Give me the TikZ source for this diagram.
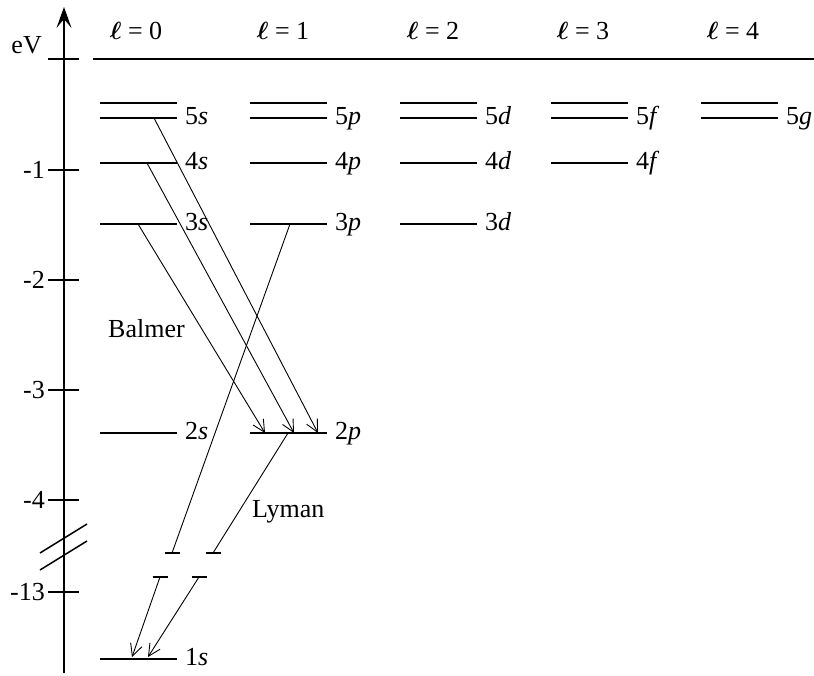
\documentclass[tikz,border=0pt]{standalone}
\usepackage{amsmath}
\usepackage{fontspec}
\setmainfont{Liberation Serif}
\usetikzlibrary{arrows.meta}
\tikzset{
  level/.style={line width=1.8pt},
  trans/.style={line width=0.9pt},
  transarrow/.style={trans,-{Straight Barb[length=12pt,width=12pt,line width=0.9pt]}},
  tickmark/.style={line width=1.5pt},
  lbl/.style={anchor=base west,inner sep=0pt},
  txt/.style={inner sep=0pt},
}
\newcommand{\ellbold}{$\boldsymbol{\ell}$}
\begin{document}
\begin{tikzpicture}[x=1pt,y=-1pt,font=\fontsize{26}{30}\selectfont]
\useasboundingbox (0,0) rectangle (814,675);
% axis
\coordinate (axbot) at (64,673);
\coordinate (axtop) at (64,7);
\draw[line width=1.5pt,-{Stealth[length=21pt,width=15pt,inset=9pt]}] (axbot) -- (axtop);
\node[txt,anchor=base east] (ev) at (42,53) {eV};
% ticks
\foreach \yy/\lab in {170/-1,280/-2,390/-3,500/-4,592/-13}{
  \draw[tickmark] (48,\yy) -- (79,\yy);
  \node[txt,anchor=base east] (t\lab) at (45,\yy+8) {\lab};
}
\draw[tickmark] (48,59) -- (79,59);
% break marks
\draw[line width=1.5pt] (40,553) -- (87,524);
\draw[line width=1.5pt] (40,570) -- (87,541);
% zero line
\coordinate (zl) at (93,59);
\coordinate (zr) at (814,59);
\draw[level] (zl) -- (zr);
% headers
\foreach \k/\cx in {0/136,1/283,2/433,3/583,4/733}{
  \node[txt,anchor=base] (h\k) at (\cx,39) {\ellbold{} = \k};
}
% levels
\foreach \cl/\lx/\lev in {s/100/{6,5,4,3,2,1},p/250/{6,5,4,3,2},d/400/{6,5,4,3},f/551/{6,5,4},g/701/{6,5}}{
  \foreach \n in \lev {
    \pgfmathsetmacro{\yy}{\n==6 ? 103 : (\n==5 ? 118 : (\n==4 ? 163 : (\n==3 ? 224 : (\n==2 ? 433 : 659))))}
    \coordinate (L\n\cl) at (\lx,\yy);
    \coordinate (R\n\cl) at (\lx+77,\yy);
    \draw[level] (L\n\cl) -- (R\n\cl);
    \ifnum\n<6
      \node[lbl] (lab\n\cl) at (\lx+85,\yy+6) {\n\textit{\cl}};
    \fi
  }
}
% Balmer transitions
\coordinate (b5a) at (154,118); \coordinate (b5b) at (318,433);
\coordinate (b4a) at (147,163); \coordinate (b4b) at (294,433);
\coordinate (b3a) at (138,224); \coordinate (b3b) at (265,433);
\draw[transarrow] (b5a) -- (b5b);
\draw[transarrow] (b4a) -- (b4b);
\draw[transarrow] (b3a) -- (b3b);
% Lyman transitions (broken)
\coordinate (p3a) at (290,224); \coordinate (p3b) at (172,553);
\coordinate (p3c) at (160,577); \coordinate (p3d) at (132,657);
\coordinate (p2a) at (288,433); \coordinate (p2b) at (213,553);
\coordinate (p2c) at (199,577); \coordinate (p2d) at (148,657);
\draw[trans] (p3a) -- (p3b);
\draw[trans] (p2a) -- (p2b);
\draw[transarrow] (p3c) -- (p3d);
\draw[transarrow] (p2c) -- (p2d);
\foreach \c in {p3b,p3c,p2b,p2c}{
  \draw[trans,line width=1.1pt] ([xshift=-7.5pt]\c) -- ([xshift=7.5pt]\c);
}
% series labels
\node[txt,anchor=base west] (balmer) at (108,337) {Balmer};
\node[txt,anchor=base west] (lyman) at (252,517) {Lyman};
\end{tikzpicture}
\end{document}
